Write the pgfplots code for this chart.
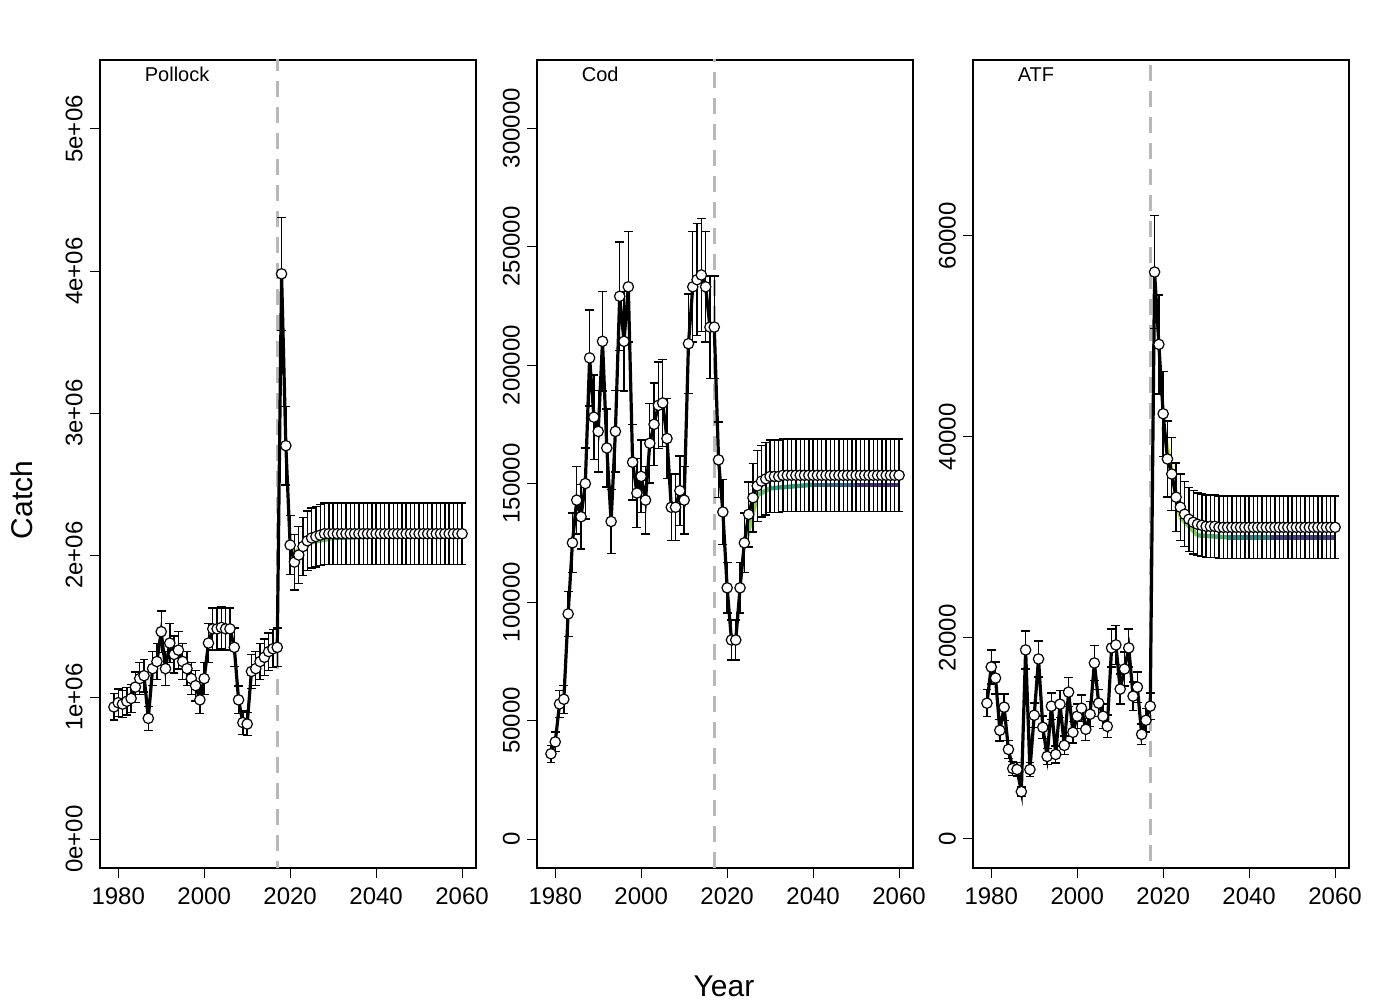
\documentclass[border=0pt]{standalone}
\usepackage{pgfplots}
\pgfplotsset{compat=1.18}
\usepackage{pgfplotstable}
\usepackage{fontspec}
\setmainfont{Liberation Sans}
\pgfplotstableread{
x y
1979 0.93e6
1980 0.96e6
1981 0.95e6
1982 0.97e6
1983 0.99e6
1984 1.07e6
1985 1.13e6
1986 1.15e6
1987 0.85e6
1988 1.20e6
1989 1.25e6
1990 1.46e6
1991 1.20e6
1992 1.38e6
1993 1.30e6
1994 1.33e6
1995 1.25e6
1996 1.20e6
1997 1.13e6
1998 1.08e6
1999 0.98e6
2000 1.13e6
2001 1.38e6
2002 1.48e6
2003 1.48e6
2004 1.49e6
2005 1.48e6
2006 1.48e6
2007 1.35e6
2008 0.98e6
2009 0.82e6
2010 0.81e6
2011 1.18e6
2012 1.20e6
2013 1.25e6
2014 1.28e6
2015 1.32e6
2016 1.34e6
2017 1.35e6
2018 3.98e6
2019 2.77e6
2020 2.07e6
2021 1.95e6
2022 2.00e6
2023 2.06e6
2024 2.10e6
2025 2.12e6
2026 2.13e6
2027 2.14e6
2028 2.15e6
2029 2.15e6
2030 2.15e6
2031 2.15e6
2032 2.15e6
2033 2.15e6
2034 2.15e6
2035 2.15e6
2036 2.15e6
2037 2.15e6
2038 2.15e6
2039 2.15e6
2040 2.15e6
2041 2.15e6
2042 2.15e6
2043 2.15e6
2044 2.15e6
2045 2.15e6
2046 2.15e6
2047 2.15e6
2048 2.15e6
2049 2.15e6
2050 2.15e6
2051 2.15e6
2052 2.15e6
2053 2.15e6
2054 2.15e6
2055 2.15e6
2056 2.15e6
2057 2.15e6
2058 2.15e6
2059 2.15e6
2060 2.15e6
}\pollock
\pgfplotstableread{
x y
1979 36000
1980 41000
1981 57000
1982 59000
1983 95000
1984 125000
1985 143000
1986 136000
1987 150000
1988 203000
1989 178000
1990 172000
1991 210000
1992 165000
1993 134000
1994 172000
1995 229000
1996 210000
1997 233000
1998 159000
1999 146000
2000 153000
2001 143000
2002 167000
2003 175000
2004 183000
2005 184000
2006 169000
2007 140000
2008 140000
2009 147000
2010 143000
2011 209000
2012 233000
2013 236000
2014 238000
2015 233000
2016 216000
2017 216000
2018 160000
2019 138000
2020 106000
2021 84000
2022 84000
2023 106000
2024 125000
2025 137000
2026 144000
2027 149000
2028 151000
2029 152000
2030 153000
2031 153000
2032 153000
2033 153500
2034 153500
2035 153500
2036 153500
2037 153500
2038 153500
2039 153500
2040 153500
2041 153500
2042 153500
2043 153500
2044 153500
2045 153500
2046 153500
2047 153500
2048 153500
2049 153500
2050 153500
2051 153500
2052 153500
2053 153500
2054 153500
2055 153500
2056 153500
2057 153500
2058 153500
2059 153500
2060 153500
}\cod
\pgfplotstableread{
x y
1979 13500
1980 17100
1981 16000
1982 10800
1983 13100
1984 8900
1985 7000
1986 6900
1987 4700
1988 18800
1989 6900
1990 12300
1991 17900
1992 11100
1993 8200
1994 13200
1995 8400
1996 13400
1997 9300
1998 14600
1999 10600
2000 12200
2001 13000
2002 10900
2003 12400
2004 17500
2005 13500
2006 12200
2007 11200
2008 19000
2009 19300
2010 14900
2011 16900
2012 19000
2013 14200
2014 15100
2015 10400
2016 11800
2017 13200
2018 56400
2019 49200
2020 42300
2021 37800
2022 36300
2023 34000
2024 33000
2025 32300
2026 31800
2027 31500
2028 31300
2029 31200
2030 31100
2031 31100
2032 31100
2033 31000
2034 31000
2035 31000
2036 31000
2037 31000
2038 31000
2039 31000
2040 31000
2041 31000
2042 31000
2043 31000
2044 31000
2045 31000
2046 31000
2047 31000
2048 31000
2049 31000
2050 31000
2051 31000
2052 31000
2053 31000
2054 31000
2055 31000
2056 31000
2057 31000
2058 31000
2059 31000
2060 31000
}\atf
\pgfplotsset{
  panel/.style={
    scale only axis, width=188pt, height=404pt,
    xmin=1975.76, xmax=2063.24,
    xtick={1980,2000,2020,2040,2060},
    xticklabels={1980,2000,2020,2040,2060},
    axis x line*=box, tick align=outside,
    xtick pos=bottom, ytick pos=left,
    major tick length=5pt,
    tick style={black, line width=0.5pt},
    every axis/.append style={line width=0.6pt},
    ticklabel style={font=\fontsize{12}{14}\selectfont},
    yticklabel style={rotate=90, anchor=south},
    xticklabel style={yshift=-1pt},
    scaled y ticks=false,
    clip=true,
  },
  ser/.style={black, line width=1.6pt, mark=*, mark size=2.6pt,
    mark options={fill=white, draw=black, line width=0.6pt, solid},
    error bars/.cd, y dir=both, y fixed relative=0.1,
    error bar style={line width=0.7pt, black},
    error mark options={rotate=90, mark size=2.2pt, line width=0.7pt, black}},
  vir/.style={mesh, point meta={4078-x}, colormap/viridis, line width=2.2pt, no marks, point meta min=2018, point meta max=2060},
  vline/.style={black!28, line width=1.6pt, dash pattern=on 8pt off 5pt},
}
\begin{document}
\begin{tikzpicture}
\path[use as bounding box] (0,0) rectangle (700pt,500pt);
\begin{axis}[panel, at={(50pt,66pt)}, anchor=south west,
  ymin=-0.204e6, ymax=5.486e6,
  ytick={0,1e6,2e6,3e6,4e6,5e6},
  yticklabels={0e+00,1e+06,2e+06,3e+06,4e+06,5e+06}]
\addplot[vline] coordinates {(2017,-1e6) (2017,1e7)};
\addplot[vir] coordinates {(2020,2.0e6)(2025,2.09e6)(2030,2.12e6)(2040,2.13e6)(2050,2.13e6)(2060,2.13e6)};
\addplot[ser] table {\pollock};
\node[anchor=north west, font=\fontsize{10}{12}\selectfont] at (rel axis cs:0.1,1) {Pollock};
\end{axis}
\begin{axis}[panel, at={(268.5pt,66pt)}, anchor=south west,
  ymin=-12200, ymax=328700,
  ytick={0,50000,100000,150000,200000,250000,300000},
  yticklabels={0,50000,100000,150000,200000,250000,300000}]
\addplot[vline] coordinates {(2017,-1e5) (2017,1e6)};
\addplot[vir] coordinates {(2024,123000)(2027,145000)(2030,148000)(2040,149500)(2050,149500)(2060,149500)};
\addplot[ser] table {\cod};
\node[anchor=north west, font=\fontsize{10}{12}\selectfont] at (rel axis cs:0.1,1) {Cod};
\end{axis}
\begin{axis}[panel, at={(486.5pt,66pt)}, anchor=south west,
  ymin=-2900, ymax=77500,
  ytick={0,20000,40000,60000},
  yticklabels={0,20000,40000,60000}]
\addplot[vline] coordinates {(2017,-1e4) (2017,1e5)};
\addplot[vir] coordinates {(2020,41000)(2024,32000)(2028,30200)(2035,30000)(2045,30000)(2060,30000)};
\addplot[ser] table {\atf};
\node[anchor=north west, font=\fontsize{10}{12}\selectfont] at (rel axis cs:0.1,1) {ATF};
\end{axis}
\node[rotate=90, font=\fontsize{15}{17}\selectfont] at (11pt,250pt) {Catch};
\node[font=\fontsize{15}{17}\selectfont] at (362pt,7pt) {Year};
\end{tikzpicture}
\end{document}
